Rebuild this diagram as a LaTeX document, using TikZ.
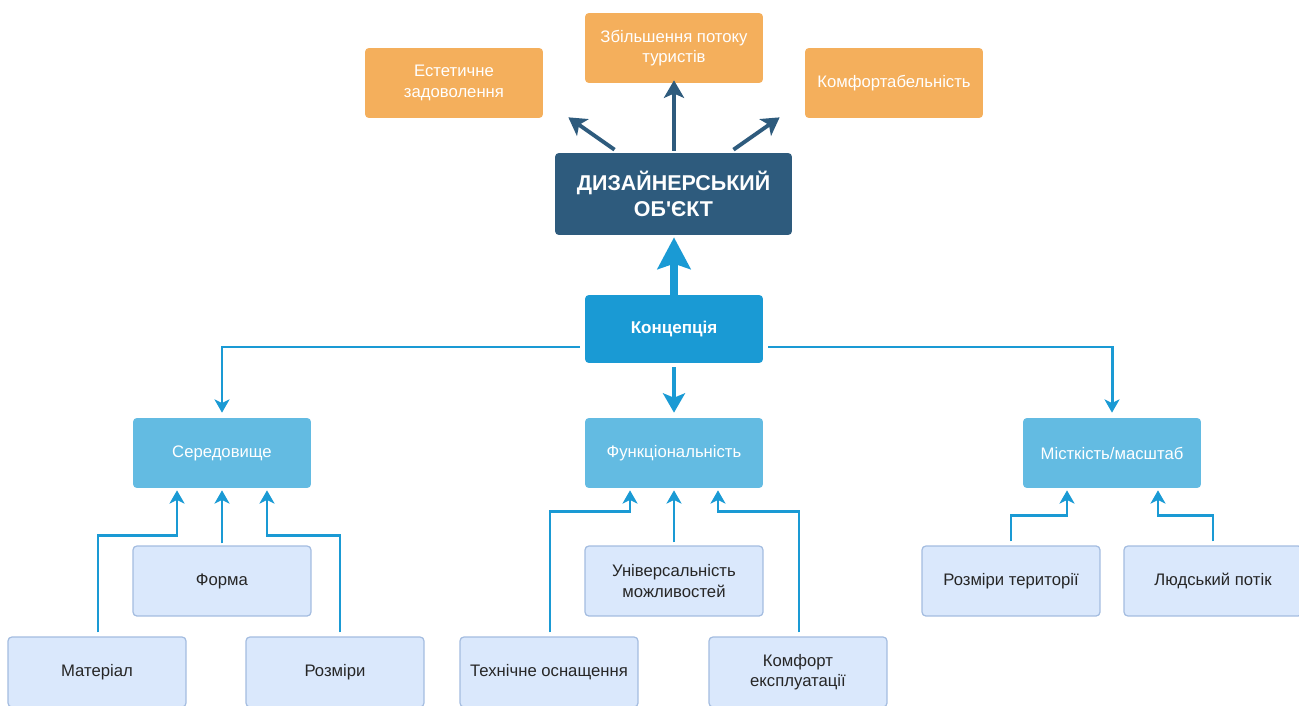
\documentclass[tikz,border=0pt]{standalone}
\usepackage{fontspec}
\setmainfont{Liberation Sans}
\newfontfamily\objfont{Liberation Sans}
\usepackage{tikz}
\usetikzlibrary{arrows.meta}
\usepackage{xcolor}
\definecolor{orangebox}{HTML}{F4AF5C}
\definecolor{darkbox}{HTML}{2E5B7D}
\definecolor{conceptbox}{HTML}{1A9AD4}
\definecolor{midbox}{HTML}{63BBE2}
\definecolor{lightbox}{HTML}{DAE8FC}
\definecolor{lightedge}{HTML}{A3BCE0}
\definecolor{linkblue}{HTML}{1A9AD4}

\begin{document}
\begin{tikzpicture}[x=0.02cm,y=-0.02cm,
  box/.style={rounded corners=2.2pt, minimum width=3.56cm, minimum height=1.4cm,
    align=center, font=\fontsize{9.5}{11.5}\selectfont, inner sep=2pt},
  goal/.style={box, fill=orangebox, text=white},
  mid/.style={box, fill=midbox, text=white},
  leaf/.style={box, fill=lightbox, draw=lightedge, line width=0.7pt, text=black!85},
  link/.style={draw=linkblue, line width=1.5pt, -{Stealth[length=7.5pt,width=8.5pt,inset=2pt]}},
  outlink/.style={draw=darkbox, line width=2.2pt, -{Stealth[length=10pt,width=11.5pt,inset=2.5pt]}}]
  \useasboundingbox (0,0) rectangle (1299,706);

  % Goals
  \node[goal] (est) at (454,83) {Естетичне\\задоволення};
  \node[goal] (tour) at (674,48) {Збільшення потоку\\туристів};
  \node[goal] (comf) at (894,83) {Комфортабельність};

  % Design object and concept
  \node[box, fill=darkbox, text=white, minimum width=4.74cm, minimum height=1.64cm,
    font=\objfont\fontsize{12.2}{15}\selectfont\bfseries] (obj) at (673.5,194) {ДИЗАЙНЕРСЬКИЙ\\ОБ'ЄКТ};
  \node[box, fill=conceptbox, text=white, minimum height=1.36cm,
    font=\fontsize{9.7}{11.5}\selectfont\bfseries] (conc) at (674,329) {Концепція};

  % Aspects
  \node[mid] (env) at (222,453) {Середовище};
  \node[mid] (func) at (674,453) {Функціональність};
  \node[mid] (cap) at (1112,453) {Місткість/масштаб};

  % Factors
  \node[leaf] (form) at (222,581) {Форма};
  \node[leaf] (mat) at (97,672) {Матеріал};
  \node[leaf] (size) at (335,672) {Розміри};
  \node[leaf] (univ) at (674,581) {Універсальність\\можливостей};
  \node[leaf] (tech) at (549,672) {Технічне оснащення};
  \node[leaf] (use) at (798,672) {Комфорт\\експлуатації};
  \node[leaf] (area) at (1011,581) {Розміри території};
  \node[leaf] (crowd) at (1213,581) {Людський потік};

  % Object to goals
  \draw[outlink] ([xshift=-1.18cm,yshift=0.06cm]obj.north) -- ([xshift=0.5cm,yshift=0.02cm]est.south east);
  \draw[outlink] ([yshift=0.04cm]obj.north -| tour.south) -- ([yshift=0.06cm]tour.south);
  \draw[outlink] ([xshift=1.2cm,yshift=0.06cm]obj.north) -- ([xshift=-0.5cm,yshift=0.02cm]comf.south west);

  % Concept
  \draw[draw=linkblue, line width=4pt, -{Stealth[length=18pt,width=18.7pt,inset=3pt]}]
    (conc.north) -- ([yshift=-0.04cm]obj.south -| conc.north);
  \draw[draw=linkblue, line width=2.8pt, -{Stealth[length=11pt,width=12.5pt,inset=2.5pt]}]
    ([yshift=-0.08cm]conc.south) -- ([yshift=0.1cm]func.north);
  \draw[link, line width=1.7pt] ([xshift=-0.1cm,yshift=-0.36cm]conc.west) -| ([yshift=0.1cm]env.north);
  \draw[link, line width=1.7pt] ([xshift=0.1cm,yshift=-0.36cm]conc.east) -| ([yshift=0.1cm]cap.north);

  % Environment
  \draw[link] ([xshift=0.02cm,yshift=0.08cm]mat.north) -- ++(0,-97) -| ([xshift=-0.9cm,yshift=-0.04cm]env.south);
  \draw[link] ([yshift=0.04cm]form.north) -- ([yshift=-0.04cm]env.south);
  \draw[link] ([xshift=0.1cm,yshift=0.08cm]size.north) -- ++(0,-97) -| ([xshift=0.9cm,yshift=-0.04cm]env.south);

  % Functionality
  \draw[link] ([xshift=0.02cm,yshift=0.08cm]tech.north) -- ++(0,-121) -| ([xshift=-0.88cm,yshift=-0.04cm]func.south);
  \draw[link] ([yshift=0.06cm]univ.north) -- ([yshift=-0.04cm]func.south);
  \draw[link] ([xshift=0.02cm,yshift=0.08cm]use.north) -- ++(0,-121) -| ([xshift=0.88cm,yshift=-0.04cm]func.south);

  % Capacity
  \draw[link] ([yshift=0.08cm]area.north) -- ++(0,-26) -| ([xshift=-0.9cm,yshift=-0.04cm]cap.south);
  \draw[link] ([yshift=0.08cm]crowd.north) -- ++(0,-26) -| ([xshift=0.92cm,yshift=-0.04cm]cap.south);
\end{tikzpicture}
\end{document}
